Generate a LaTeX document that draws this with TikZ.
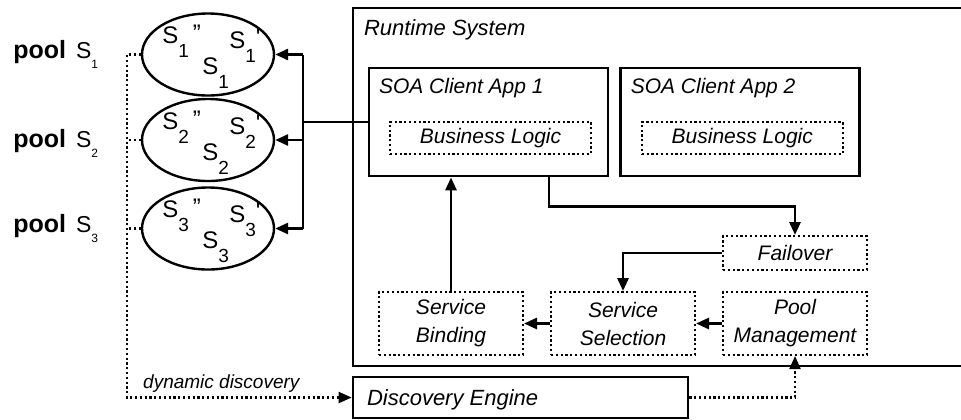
\documentclass[tikz,border=0pt]{standalone}
\usepackage{fontspec}
\setmainfont{Liberation Sans}
\usetikzlibrary{arrows.meta,positioning,shapes.geometric}
\newcommand{\esub}[1]{\raisebox{-7pt}{\fontsize{9.5}{10}\selectfont #1}}
\newcommand{\psub}[1]{\raisebox{-5pt}{\fontsize{6}{6}\selectfont #1}}

\begin{document}
\begin{tikzpicture}[x=0.5pt,y=-0.5pt,
    solidbox/.style={rectangle,draw,line width=1.4pt,inner sep=0pt},
    modbox/.style={rectangle,draw,line width=1pt,dash pattern=on 1.1pt off 1.3pt,
      minimum width=72pt,minimum height=31.5pt,align=center,inner sep=0pt,
      font=\fontsize{10.5}{14}\selectfont\itshape},
    poolnode/.style={ellipse,draw,line width=1.2pt,minimum width=66pt,minimum height=41pt,inner sep=0pt},
    title/.style={anchor=base west,inner sep=0pt,font=\fontsize{10.5}{12}\selectfont\itshape},
    elabel/.style={anchor=base west,inner sep=0pt,font=\fontsize{12}{13}\selectfont},
    conn/.style={->,line width=1.4pt},
    dotconn/.style={->,line width=1.1pt,dash pattern=on 1.1pt off 1.3pt},
    >={Triangle[length=6.5pt,width=5.5pt]}
  ]
  \useasboundingbox (0,0) rectangle (961,419);

  % runtime system and client apps
  \node[solidbox,minimum width=311pt,minimum height=179pt] (rts) at (664,187) {};
  \node[title,font=\fontsize{11}{12}\selectfont\itshape] (rtstitle) at ([xshift=6pt,yshift=-14.5pt]rts.north west) {Runtime System};
  \node[solidbox,minimum width=119.5pt,minimum height=54pt] (app1) at (488.5,122) {};
  \node[solidbox,minimum width=119.5pt,minimum height=54pt,right=5pt of app1] (app2) {};
  \node[title] (app1title) at ([xshift=5.5pt,yshift=-13.5pt]app1.north west) {SOA Client App 1};
  \node[title] (app2title) at ([xshift=5.5pt,yshift=-13.5pt]app2.north west) {SOA Client App 2};
  \node[modbox,minimum width=100.5pt,minimum height=16pt] (logic1) at ([xshift=1pt,yshift=-8pt]app1.center) {Business Logic};
  \node[modbox,minimum width=100.5pt,minimum height=16pt] (logic2) at ([xshift=1pt,yshift=-8pt]app2.center) {Business Logic};

  % middleware modules
  \node[modbox] (poolmgmt) at (795,323.5) {Pool\\Management};
  \node[modbox,left=13pt of poolmgmt] (select) {Service\\Selection};
  \node[modbox,left=13pt of select] (bind) {Service\\Binding};
  \node[modbox,minimum height=17pt,above=10pt of poolmgmt] (failover) {Failover};

  % discovery engine
  \node[solidbox,minimum width=167.5pt,minimum height=20.5pt] (disc) at (520.5,397.5) {};
  \node[title,font=\fontsize{11}{12}\selectfont\itshape] (disctitle) at ([xshift=7.5pt,yshift=-3.75pt]disc.west) {Discovery Engine};

  % service pools
  \foreach \i/\y/\b in {1/54.5/58,2/140/147,3/228.5/232}{
    \node[poolnode] (e\i) at (208,\y) {};
    \node[anchor=base west,inner sep=0pt] (lab\i) at (13,\b)
      {\fontsize{12.5}{14}\selectfont\bfseries pool\hspace{1.5pt} \fontsize{11.5}{12}\selectfont\mdseries S\psub{\i}};
    \node[elabel] (s\i a) at ([shift={(-46,-11)}]e\i.center) {S\esub{\i}\hspace{2pt}\raisebox{1pt}{"}};
    \node[elabel] (s\i b) at ([shift={(21,-6)}]e\i.center) {S\esub{\i}\raisebox{1.5pt}{\textquotesingle}};
    \node[elabel] (s\i c) at ([shift={(-6,20)}]e\i.center) {S\esub{\i}};
  }

  % binding to pools
  \coordinate (bus) at (303,122);
  \draw[line width=1.4pt] (app1.west) -- (bus);
  \draw[line width=1.4pt] (bus |- e1.east) -- (bus |- e3.east);
  \foreach \i in {1,2,3}
    \draw[conn] (bus |- e\i.east) -- (e\i.east);

  % control flow
  \draw[conn] ([xshift=30.25pt]app1.south) -- ++(0,29) -| (failover.north);
  \draw[conn] (failover.west) -| (select.north);
  \draw[conn] (poolmgmt.west) -- (select.east);
  \draw[conn] (select.west) -- (bind.east);
  \draw[conn] (bind.north) -- (bind.north |- app1.south);

  % discovery
  \coordinate (ddx) at (127,0);
  \draw[dotconn] (e1.west) -- (e1.west -| ddx) |- node[pos=0.71,above,inner sep=2pt,font=\fontsize{9.5}{11}\selectfont\itshape] (ddlabel) {dynamic discovery} (disc.west);
  \draw[line width=1.1pt,dash pattern=on 1.1pt off 1.3pt] (e2.west) -- (e2.west -| ddx);
  \draw[line width=1.1pt,dash pattern=on 1.1pt off 1.3pt] (e3.west) -- (e3.west -| ddx);
  \draw[dotconn] (disc.east) -| (poolmgmt.south);
\end{tikzpicture}
\end{document}
